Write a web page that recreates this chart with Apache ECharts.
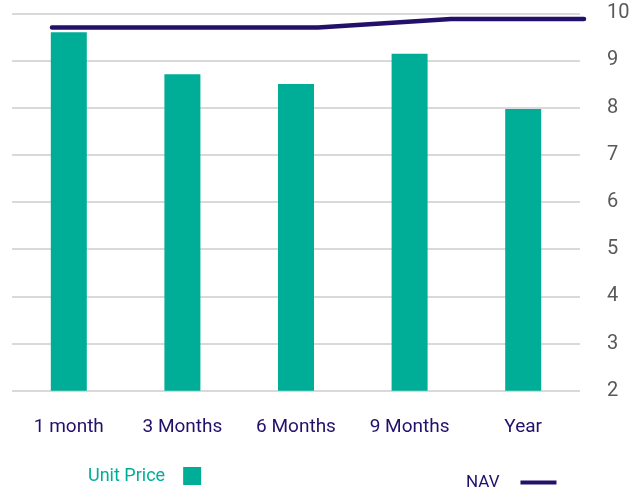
<!DOCTYPE html>
<html>
<head>
<meta charset="utf-8">
<script src="https://cdn.jsdelivr.net/npm/echarts@6/dist/echarts.min.js"></script>
<style>
  html, body { margin: 0; padding: 0; background: #fff; }
  #chart { width: 644px; height: 490px; }
</style>
</head>
<body>
<div id="chart"></div>
<script>
// data
const periods = ['1 month', '3 Months', '6 Months', '9 Months', 'Year'];
const unitPrice = [9.60, 8.71, 8.50, 9.14, 7.97];
const nav = [9.70, 9.70, 9.70, 9.88, 9.88];
const yTicks = [2, 3, 4, 5, 6, 7, 8, 9, 10];

const teal = '#00ae98';
const navy = '#23106b';

const chart = echarts.init(document.getElementById('chart'));

const options = {
  animation: false,
  textStyle: { fontFamily: 'Roboto' },
  grid: [
    // bars
    { left: 12, right: 64, top: 13.3, bottom: 99.3 },
    // NAV line, stretched between its own ends
    { left: 52, right: 60, top: 13.3, bottom: 99.3 }
  ],
  legend: [
    {
      data: ['Unit Price'],
      left: 83,
      top: 462,
      align: 'right',
      icon: 'rect',
      itemWidth: 18,
      itemHeight: 18,
      textStyle: { color: teal, fontSize: 18, padding: [0, 13, 6, 0] }
    },
    {
      data: ['NAV'],
      left: 461,
      top: 469,
      align: 'right',
      icon: 'rect',
      itemWidth: 36,
      itemHeight: 4,
      textStyle: { color: navy, fontSize: 17, padding: [0, 16, 0, 0] }
    }
  ],
  xAxis: [
    {
      type: 'category',
      gridIndex: 0,
      data: periods,
      boundaryGap: true,
      axisLine: { show: false },
      axisTick: { show: false },
      axisLabel: { color: navy, fontSize: 19, margin: 27 }
    },
    {
      type: 'category',
      gridIndex: 1,
      data: periods,
      boundaryGap: false,
      show: false
    }
  ],
  yAxis: [
    {
      type: 'value',
      gridIndex: 0,
      position: 'right',
      min: yTicks[0],
      max: yTicks[yTicks.length - 1],
      interval: 1,
      axisLine: { show: false },
      axisTick: { show: false },
      axisLabel: { color: '#595959', fontSize: 20, margin: 27 },
      splitLine: { lineStyle: { color: '#d9d9d9', width: 2 } }
    },
    {
      type: 'value',
      gridIndex: 1,
      min: yTicks[0],
      max: yTicks[yTicks.length - 1],
      show: false
    }
  ],
  series: [
    {
      name: 'Unit Price',
      type: 'bar',
      xAxisIndex: 0,
      yAxisIndex: 0,
      data: unitPrice,
      barWidth: 36,
      itemStyle: { color: teal }
    },
    {
      name: 'NAV',
      type: 'line',
      xAxisIndex: 1,
      yAxisIndex: 1,
      data: nav,
      symbol: 'none',
      z: 5,
      itemStyle: { color: navy },
      lineStyle: { color: navy, width: 4.5, cap: 'round', join: 'round' }
    }
  ]
};

chart.setOption(options);
</script>
</body>
</html>
